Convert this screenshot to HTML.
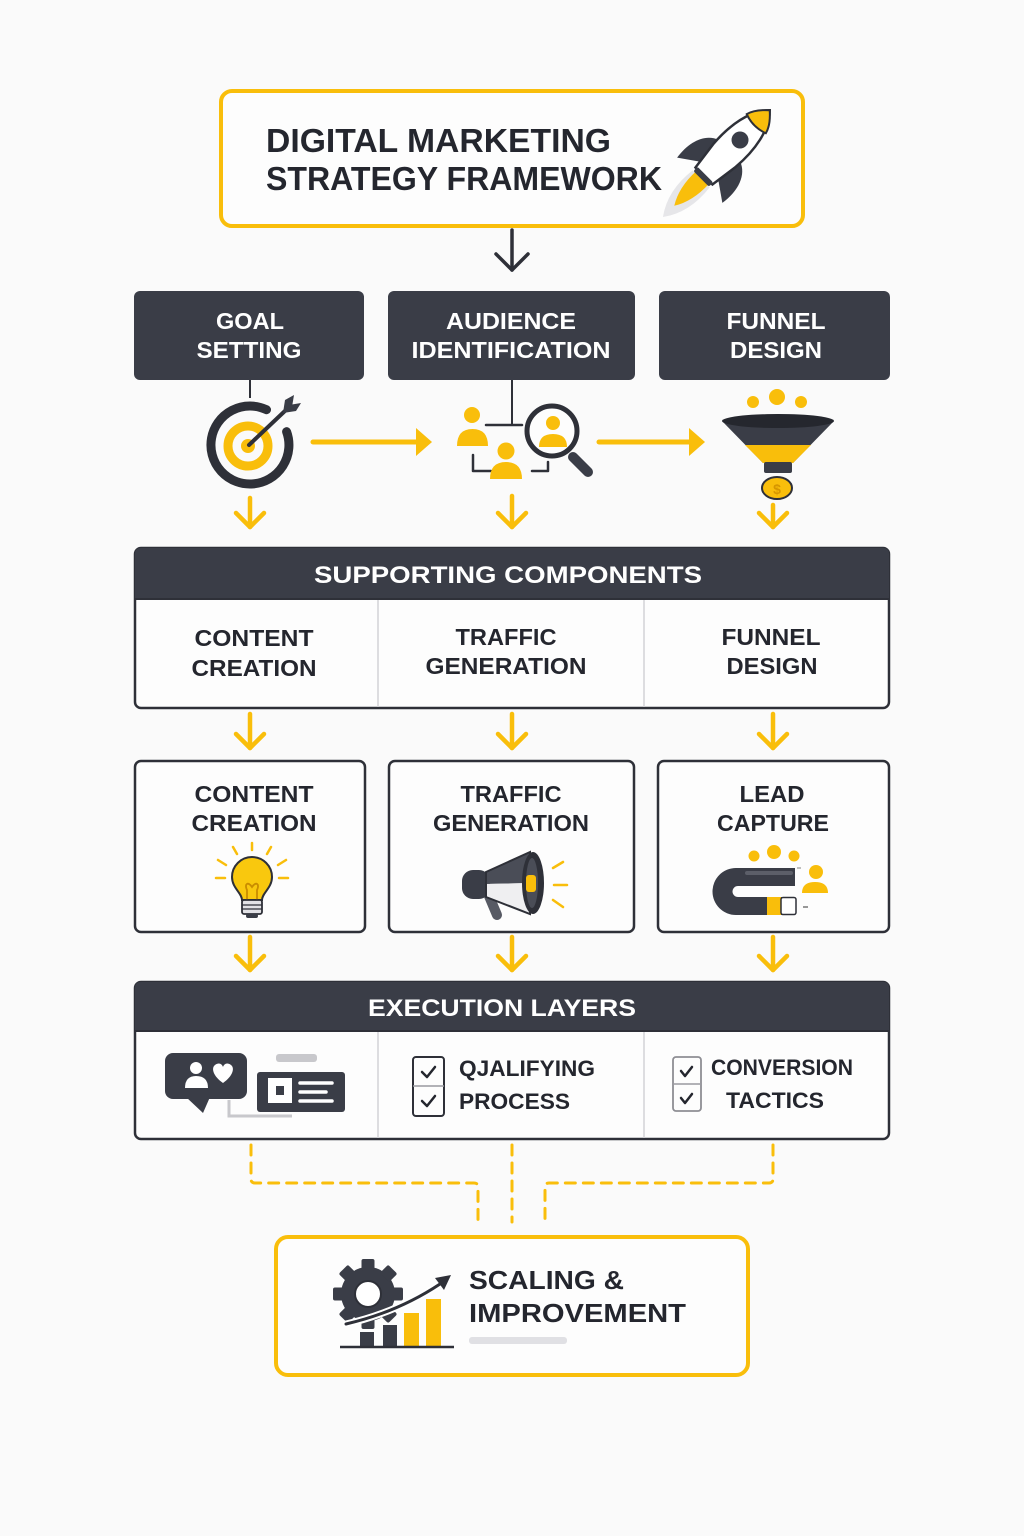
<!DOCTYPE html>
<html>
<head>
<meta charset="utf-8">
<style>
  html,body{margin:0;padding:0;background:#fafafa;}
  svg{display:block;}
  text{font-family:"Liberation Sans", Arial, sans-serif;font-weight:bold;}
</style>
</head>
<body>
<svg width="1024" height="1536" viewBox="0 0 1024 1536" xmlns="http://www.w3.org/2000/svg">
  <rect x="0" y="0" width="1024" height="1536" fill="#fafafa"/>

  <!-- ===== Title box ===== -->
  <rect x="221" y="91" width="582" height="135" rx="11" fill="#fdfdfd" stroke="#F9BE0B" stroke-width="4"/>
  <text x="266" y="152" font-size="33" fill="#24262e" textLength="345" lengthAdjust="spacingAndGlyphs">DIGITAL MARKETING</text>
  <text x="266" y="190" font-size="33" fill="#24262e" textLength="396" lengthAdjust="spacingAndGlyphs">STRATEGY FRAMEWORK</text>

  <!-- Rocket -->
  <g transform="translate(728,152) rotate(45)">
    <path d="M-12,38 Q-16,70 0,92 Q16,70 12,38 Z" fill="#e6e6e9"/>
    <path d="M-9,36 Q-10,60 0,76 Q10,60 9,36 Z" fill="#F9BE0B"/>
    <path d="M-15,-2 C-29,3 -35,20 -32,40 L-12,26 Z" fill="#3a3d47"/>
    <path d="M15,-2 C29,3 35,20 32,40 L12,26 Z" fill="#3a3d47"/>
    <path d="M0,-59 C14,-45 18,-20 16,5 L12,34 L-12,34 L-16,5 C-18,-20 -14,-45 0,-59 Z" fill="#ffffff" stroke="#2e3038" stroke-width="2.5"/>
    <path d="M0,-59 C8,-52 12,-46 13.5,-40 Q0,-35 -13.5,-40 C-12,-46 -8,-52 0,-59 Z" fill="#F9BE0B" stroke="#2e3038" stroke-width="2"/>
    <circle cx="0" cy="-17" r="8.5" fill="#3a3d47"/>
    <rect x="-11" y="32" width="22" height="6" rx="2" fill="#3a3d47"/>
  </g>

  <!-- dark arrow down from title -->
  <line x1="512" y1="230" x2="512" y2="270" stroke="#2e3038" stroke-width="3.5" stroke-linecap="round"/>
  <polyline points="496,254 512,270 528,254" fill="none" stroke="#2e3038" stroke-width="3.5" stroke-linecap="round" stroke-linejoin="round"/>

  <!-- ===== Top dark boxes ===== -->
  <rect x="134" y="291" width="230" height="89" rx="6" fill="#3a3d47"/>
  <rect x="388" y="291" width="247" height="89" rx="6" fill="#3a3d47"/>
  <rect x="659" y="291" width="231" height="89" rx="6" fill="#3a3d47"/>
  <text x="250" y="329" font-size="23" fill="#ffffff" text-anchor="middle" textLength="68" lengthAdjust="spacingAndGlyphs">GOAL</text>
  <text x="249" y="358" font-size="23" fill="#ffffff" text-anchor="middle" textLength="105" lengthAdjust="spacingAndGlyphs">SETTING</text>
  <text x="511" y="329" font-size="23" fill="#ffffff" text-anchor="middle" textLength="130" lengthAdjust="spacingAndGlyphs">AUDIENCE</text>
  <text x="511" y="358" font-size="23" fill="#ffffff" text-anchor="middle" textLength="199" lengthAdjust="spacingAndGlyphs">IDENTIFICATION</text>
  <text x="776" y="329" font-size="23" fill="#ffffff" text-anchor="middle" textLength="99" lengthAdjust="spacingAndGlyphs">FUNNEL</text>
  <text x="776" y="358" font-size="23" fill="#ffffff" text-anchor="middle" textLength="92" lengthAdjust="spacingAndGlyphs">DESIGN</text>

  <!-- connectors from boxes -->
  <line x1="250" y1="380" x2="250" y2="398" stroke="#2e3038" stroke-width="2"/>
  <line x1="512" y1="380" x2="512" y2="425" stroke="#2e3038" stroke-width="2"/>

  <!-- Target icon -->
  <path d="M286.6,431.7 A39,39 0 1 1 266.5,409.7" fill="none" stroke="#2e3038" stroke-width="9" stroke-linecap="round"/>
  <circle cx="248" cy="446" r="20" fill="none" stroke="#F9BE0B" stroke-width="9"/>
  <circle cx="248" cy="446" r="7" fill="#F9BE0B"/>
  <line x1="249" y1="445" x2="287" y2="409" stroke="#2e3038" stroke-width="4" stroke-linecap="round"/>
  <path d="M283,413 L285,400 L294,395 L292,407 Z" fill="#3a3d47"/>
  <path d="M283,413 L296,411 L301,403 L289,405 Z" fill="#3a3d47"/>

  <!-- arrow 1 -->
  <line x1="313" y1="442" x2="418" y2="442" stroke="#F9BE0B" stroke-width="5" stroke-linecap="round"/>
  <polygon points="416,428 432,442 416,456" fill="#F9BE0B"/>

  <!-- Audience icon -->
  <line x1="486" y1="425" x2="522" y2="425" stroke="#2e3038" stroke-width="2.5" stroke-linecap="round"/>
  <polyline points="473,455 473,471 491,471" fill="none" stroke="#2e3038" stroke-width="2.5" stroke-linecap="round" stroke-linejoin="round"/>
  <polyline points="532,471 548,471 548,462" fill="none" stroke="#2e3038" stroke-width="2.5" stroke-linecap="round" stroke-linejoin="round"/>
  <circle cx="472" cy="415" r="8" fill="#F9BE0B"/>
  <path d="M457,446 Q457,429 472.5,429 Q488,429 488,446 Z" fill="#F9BE0B"/>
  <circle cx="506" cy="451" r="8.5" fill="#F9BE0B"/>
  <path d="M490,479 Q490,462 506,462 Q522,462 522,479 Z" fill="#F9BE0B"/>
  <line x1="573" y1="457" x2="588" y2="472" stroke="#3a3d47" stroke-width="10" stroke-linecap="round"/>
  <circle cx="552" cy="431" r="25" fill="#fdfdfd" stroke="#2e3038" stroke-width="5"/>
  <circle cx="553" cy="423" r="7" fill="#F9BE0B"/>
  <path d="M539,447 Q539,434 553,434 Q567,434 567,447 Z" fill="#F9BE0B"/>

  <!-- arrow 2 -->
  <line x1="599" y1="442" x2="691" y2="442" stroke="#F9BE0B" stroke-width="5" stroke-linecap="round"/>
  <polygon points="689,428 705,442 689,456" fill="#F9BE0B"/>

  <!-- Funnel icon -->
  <circle cx="753" cy="402" r="6" fill="#F9BE0B"/>
  <circle cx="777" cy="397" r="8" fill="#F9BE0B"/>
  <circle cx="801" cy="402" r="6" fill="#F9BE0B"/>
  <path d="M722,421 L763,463 L793,463 L834,421 Z" fill="#3a3d47"/>
  <polygon points="745,445 811,445 793,463 763,463" fill="#F9BE0B"/>
  <ellipse cx="778" cy="421" rx="56" ry="7" fill="#25272e"/>
  <rect x="764" y="462" width="28" height="11" rx="2" fill="#3a3d47"/>
  <ellipse cx="777" cy="488" rx="15" ry="11" fill="#F9BE0B" stroke="#2e3038" stroke-width="2"/>
  <text x="777" y="494" font-size="14" fill="#d69600" text-anchor="middle">$</text>

  <!-- row 1 down arrows -->
  <g stroke="#F9BE0B" stroke-width="4.5" stroke-linecap="round" stroke-linejoin="round" fill="none">
    <line x1="250" y1="498" x2="250" y2="527"/><polyline points="236,513 250,527 264,513"/>
    <line x1="512" y1="496" x2="512" y2="527"/><polyline points="498,513 512,527 526,513"/>
    <line x1="773" y1="505" x2="773" y2="527"/><polyline points="759,513 773,527 787,513"/>
  </g>

  <!-- ===== Supporting components ===== -->
  <rect x="135" y="548" width="754" height="160" rx="6" fill="#fdfdfd" stroke="#2e3038" stroke-width="2.5"/>
  <path d="M135,599 L135,554 Q135,548 141,548 L883,548 Q889,548 889,554 L889,599 Z" fill="#3a3d47"/>
  <line x1="135" y1="599" x2="889" y2="599" stroke="#2e3038" stroke-width="2"/>
  <line x1="378" y1="600" x2="378" y2="707" stroke="#d2d2d6" stroke-width="1.5"/>
  <line x1="644" y1="600" x2="644" y2="707" stroke="#d2d2d6" stroke-width="1.5"/>
  <text x="508" y="583" font-size="24" fill="#ffffff" text-anchor="middle" textLength="388" lengthAdjust="spacingAndGlyphs">SUPPORTING COMPONENTS</text>
  <text x="254" y="646" font-size="23" fill="#24262e" text-anchor="middle" textLength="119" lengthAdjust="spacingAndGlyphs">CONTENT</text>
  <text x="254" y="676" font-size="23" fill="#24262e" text-anchor="middle" textLength="125" lengthAdjust="spacingAndGlyphs">CREATION</text>
  <text x="506" y="645" font-size="23" fill="#24262e" text-anchor="middle" textLength="101" lengthAdjust="spacingAndGlyphs">TRAFFIC</text>
  <text x="506" y="674" font-size="23" fill="#24262e" text-anchor="middle" textLength="161" lengthAdjust="spacingAndGlyphs">GENERATION</text>
  <text x="771" y="645" font-size="23" fill="#24262e" text-anchor="middle" textLength="99" lengthAdjust="spacingAndGlyphs">FUNNEL</text>
  <text x="772" y="674" font-size="23" fill="#24262e" text-anchor="middle" textLength="91" lengthAdjust="spacingAndGlyphs">DESIGN</text>

  <!-- row 2 down arrows -->
  <g stroke="#F9BE0B" stroke-width="4.5" stroke-linecap="round" stroke-linejoin="round" fill="none">
    <line x1="250" y1="714" x2="250" y2="748"/><polyline points="236,734 250,748 264,734"/>
    <line x1="512" y1="714" x2="512" y2="748"/><polyline points="498,734 512,748 526,734"/>
    <line x1="773" y1="714" x2="773" y2="748"/><polyline points="759,734 773,748 787,734"/>
  </g>

  <!-- ===== Middle boxes ===== -->
  <rect x="135" y="761" width="230" height="171" rx="6" fill="#fdfdfd" stroke="#2e3038" stroke-width="2.5"/>
  <rect x="389" y="761" width="245" height="171" rx="6" fill="#fdfdfd" stroke="#2e3038" stroke-width="2.5"/>
  <rect x="658" y="761" width="231" height="171" rx="6" fill="#fdfdfd" stroke="#2e3038" stroke-width="2.5"/>
  <text x="254" y="802" font-size="23" fill="#24262e" text-anchor="middle" textLength="119" lengthAdjust="spacingAndGlyphs">CONTENT</text>
  <text x="254" y="831" font-size="23" fill="#24262e" text-anchor="middle" textLength="125" lengthAdjust="spacingAndGlyphs">CREATION</text>
  <text x="511" y="802" font-size="23" fill="#24262e" text-anchor="middle" textLength="101" lengthAdjust="spacingAndGlyphs">TRAFFIC</text>
  <text x="511" y="831" font-size="23" fill="#24262e" text-anchor="middle" textLength="156" lengthAdjust="spacingAndGlyphs">GENERATION</text>
  <text x="772" y="802" font-size="23" fill="#24262e" text-anchor="middle" textLength="65" lengthAdjust="spacingAndGlyphs">LEAD</text>
  <text x="773" y="831" font-size="23" fill="#24262e" text-anchor="middle" textLength="112" lengthAdjust="spacingAndGlyphs">CAPTURE</text>

  <!-- Bulb -->
  <g stroke="#F9BE0B" stroke-width="2.5" stroke-linecap="round">
    <line x1="252" y1="843" x2="252" y2="850"/>
    <line x1="233" y1="847" x2="237" y2="854"/>
    <line x1="271" y1="847" x2="267" y2="854"/>
    <line x1="218" y1="860" x2="226" y2="865"/>
    <line x1="286" y1="860" x2="278" y2="865"/>
    <line x1="216" y1="878" x2="225" y2="878"/>
    <line x1="279" y1="878" x2="288" y2="878"/>
  </g>
  <path d="M242,900 C242,893 232,888 232,877 A20,20 0 1 1 272,877 C272,888 262,893 262,900 Z" fill="#F9C80E" stroke="#2e3038" stroke-width="2"/>
  <path d="M247,900 L247,890 C244,884 248,881 252,887 C256,881 260,884 257,890 L257,900" fill="none" stroke="#c98c00" stroke-width="1.8"/>
  <rect x="242" y="900" width="20" height="14" rx="2" fill="#e2e2e6" stroke="#2e3038" stroke-width="1.8"/>
  <line x1="242" y1="905" x2="262" y2="905" stroke="#2e3038" stroke-width="1.2"/>
  <line x1="242" y1="909" x2="262" y2="909" stroke="#2e3038" stroke-width="1.2"/>
  <rect x="246" y="914" width="12" height="4" rx="2" fill="#3a3d47"/>

  <!-- Megaphone -->
  <line x1="489" y1="896" x2="497" y2="915" stroke="#575a64" stroke-width="10" stroke-linecap="round"/>
  <rect x="462" y="870" width="28" height="29" rx="11" fill="#3a3d47"/>
  <polygon points="486,872 530,852 530,883 486,884" fill="#4a4d57"/>
  <polygon points="486,884 530,883 530,914 486,897" fill="#efeff1"/>
  <polygon points="486,872 530,852 530,914 486,897" fill="none" stroke="#2e3038" stroke-width="2"/>
  <ellipse cx="533" cy="883" rx="11" ry="31" fill="#2e3038"/>
  <ellipse cx="532" cy="883" rx="6" ry="25" fill="#4a4d57"/>
  <rect x="526" y="875" width="10" height="17" rx="3" fill="#F9BE0B"/>
  <g stroke="#F9BE0B" stroke-width="2.5" stroke-linecap="round">
    <line x1="553" y1="868" x2="563" y2="862"/>
    <line x1="554" y1="885" x2="567" y2="885"/>
    <line x1="553" y1="900" x2="563" y2="907"/>
  </g>

  <!-- Magnet -->
  <circle cx="754" cy="856" r="5.5" fill="#F9BE0B"/>
  <circle cx="774" cy="852" r="7" fill="#F9BE0B"/>
  <circle cx="794" cy="856" r="5.5" fill="#F9BE0B"/>
  <path d="M795,868 L736,868 A23.5,23.5 0 0 0 736,915 L795,915 L795,897 L738,897 A5.5,5.5 0 0 1 738,886 L795,886 Z" fill="#3a3d47"/>
  <rect x="745" y="871" width="48" height="4" rx="2" fill="#5c5f69"/>
  <rect x="767" y="897" width="14" height="18" fill="#F9BE0B"/>
  <rect x="781" y="897.5" width="15" height="17" rx="2" fill="#ffffff" stroke="#2e3038" stroke-width="1.5"/>
  <circle cx="816" cy="872" r="7" fill="#F9BE0B"/>
  <path d="M802,893 Q802,882 815,882 Q828,882 828,893 Z" fill="#F9BE0B"/>
  <line x1="797" y1="868" x2="801" y2="868" stroke="#aaa" stroke-width="1.5"/>
  <line x1="803" y1="907" x2="808" y2="907" stroke="#777" stroke-width="1.5"/>

  <!-- row 3 down arrows -->
  <g stroke="#F9BE0B" stroke-width="4.5" stroke-linecap="round" stroke-linejoin="round" fill="none">
    <line x1="250" y1="937" x2="250" y2="970"/><polyline points="236,956 250,970 264,956"/>
    <line x1="512" y1="937" x2="512" y2="970"/><polyline points="498,956 512,970 526,956"/>
    <line x1="773" y1="937" x2="773" y2="970"/><polyline points="759,956 773,970 787,956"/>
  </g>

  <!-- ===== Execution layers ===== -->
  <rect x="135" y="982" width="754" height="157" rx="6" fill="#fdfdfd" stroke="#2e3038" stroke-width="2.5"/>
  <path d="M135,1031 L135,988 Q135,982 141,982 L883,982 Q889,982 889,988 L889,1031 Z" fill="#3a3d47"/>
  <line x1="135" y1="1031" x2="889" y2="1031" stroke="#2e3038" stroke-width="2"/>
  <line x1="378" y1="1032" x2="378" y2="1138" stroke="#d2d2d6" stroke-width="1.5"/>
  <line x1="644" y1="1032" x2="644" y2="1138" stroke="#d2d2d6" stroke-width="1.5"/>
  <text x="502" y="1016" font-size="24" fill="#ffffff" text-anchor="middle" textLength="268" lengthAdjust="spacingAndGlyphs">EXECUTION LAYERS</text>

  <!-- chat + card icon -->
  <polyline points="229,1100 229,1116 292,1116" fill="none" stroke="#c8c8cc" stroke-width="3"/>
  <rect x="165" y="1053" width="82" height="46" rx="8" fill="#3a3d47"/>
  <polygon points="186,1097 203,1113 210,1097" fill="#3a3d47"/>
  <circle cx="196" cy="1068" r="6" fill="#ffffff"/>
  <path d="M185,1088 Q185,1076 196,1076 Q208,1076 208,1088 Z" fill="#ffffff"/>
  <path d="M223,1083 C213,1076 211,1068 215,1065 C219,1062 222,1064 223,1067 C224,1064 227,1062 231,1065 C235,1068 233,1076 223,1083 Z" fill="#ffffff"/>
  <rect x="276" y="1054" width="41" height="8" rx="3" fill="#c8c8cc"/>
  <rect x="257" y="1072" width="88" height="40" rx="3" fill="#3a3d47"/>
  <rect x="268" y="1078" width="24" height="25" fill="#ffffff"/>
  <rect x="276" y="1086" width="8" height="9" fill="#3a3d47"/>
  <g stroke="#ffffff" stroke-width="3.5" stroke-linecap="round">
    <line x1="300" y1="1083" x2="332" y2="1083"/>
    <line x1="300" y1="1092" x2="326" y2="1092"/>
    <line x1="300" y1="1101" x2="332" y2="1101"/>
  </g>

  <!-- checkbox 1 -->
  <rect x="413" y="1057" width="31" height="59" rx="3" fill="#fdfdfd" stroke="#2e3038" stroke-width="2"/>
  <line x1="413" y1="1086" x2="444" y2="1086" stroke="#9a9aa0" stroke-width="1.5"/>
  <polyline points="422,1072 427,1077 435,1067" fill="none" stroke="#24262e" stroke-width="2.5" stroke-linecap="round" stroke-linejoin="round"/>
  <polyline points="422,1101 427,1106 435,1096" fill="none" stroke="#24262e" stroke-width="2.5" stroke-linecap="round" stroke-linejoin="round"/>
  <text x="459" y="1076" font-size="22" fill="#24262e" textLength="136" lengthAdjust="spacingAndGlyphs">QJALIFYING</text>
  <text x="459" y="1109" font-size="22" fill="#24262e" textLength="111" lengthAdjust="spacingAndGlyphs">PROCESS</text>

  <!-- checkbox 2 -->
  <rect x="673" y="1057" width="28" height="54" rx="3" fill="#fdfdfd" stroke="#8e8e94" stroke-width="1.8"/>
  <line x1="673" y1="1084" x2="701" y2="1084" stroke="#9a9aa0" stroke-width="1.5"/>
  <polyline points="681,1071 685,1076 692,1067" fill="none" stroke="#24262e" stroke-width="2.5" stroke-linecap="round" stroke-linejoin="round"/>
  <polyline points="681,1098 685,1103 692,1094" fill="none" stroke="#24262e" stroke-width="2.5" stroke-linecap="round" stroke-linejoin="round"/>
  <text x="711" y="1075" font-size="22" fill="#24262e" textLength="142" lengthAdjust="spacingAndGlyphs">CONVERSION</text>
  <text x="726" y="1108" font-size="22" fill="#24262e" textLength="98" lengthAdjust="spacingAndGlyphs">TACTICS</text>

  <!-- ===== dashed connectors ===== -->
  <g fill="none" stroke="#F9BE0B" stroke-width="3" stroke-dasharray="10 8" stroke-linecap="round">
    <path d="M251,1145 L251,1179 Q251,1183 255,1183 L474,1183 Q478,1183 478,1187 L478,1222"/>
    <path d="M512,1145 L512,1222"/>
    <path d="M773,1145 L773,1179 Q773,1183 769,1183 L549,1183 Q545,1183 545,1187 L545,1222"/>
  </g>

  <!-- ===== Scaling box ===== -->
  <rect x="276" y="1237" width="472" height="138" rx="12" fill="#fdfdfd" stroke="#F9BE0B" stroke-width="4"/>
  <!-- gear -->
  <g transform="translate(368,1294)" fill="#3a3d47">
    <circle cx="0" cy="0" r="27"/>
    <rect x="-6.5" y="-35" width="13" height="12" rx="2"/>
    <rect x="-6.5" y="-35" width="13" height="12" rx="2" transform="rotate(45)"/>
    <rect x="-6.5" y="-35" width="13" height="12" rx="2" transform="rotate(90)"/>
    <rect x="-6.5" y="-35" width="13" height="12" rx="2" transform="rotate(135)"/>
    <rect x="-6.5" y="-35" width="13" height="12" rx="2" transform="rotate(180)"/>
    <rect x="-6.5" y="-35" width="13" height="12" rx="2" transform="rotate(225)"/>
    <rect x="-6.5" y="-35" width="13" height="12" rx="2" transform="rotate(270)"/>
    <rect x="-6.5" y="-35" width="13" height="12" rx="2" transform="rotate(315)"/>
    <circle cx="0" cy="0" r="13" fill="#ffffff" stroke="#2e3038" stroke-width="2"/>
  </g>
  <!-- bars -->
  <rect x="360" y="1332" width="14" height="15" fill="#3a3d47"/>
  <rect x="383" y="1325" width="14" height="22" fill="#3a3d47"/>
  <rect x="404" y="1313" width="15" height="34" fill="#F9BE0B"/>
  <rect x="426" y="1299" width="15" height="48" fill="#F9BE0B"/>
  <line x1="340" y1="1347" x2="454" y2="1347" stroke="#2e3038" stroke-width="2.5"/>
  <!-- curved arrow -->
  <path d="M346,1324 Q398,1312 440,1284" fill="none" stroke="#ffffff" stroke-width="7" stroke-linecap="round"/>
  <path d="M346,1324 Q398,1312 440,1284" fill="none" stroke="#2e3038" stroke-width="3" stroke-linecap="round"/>
  <polygon points="451,1275 444,1290 435,1278" fill="#2e3038"/>
  <text x="469" y="1289" font-size="26" fill="#24262e" textLength="155" lengthAdjust="spacingAndGlyphs">SCALING &amp;</text>
  <text x="469" y="1322" font-size="26" fill="#24262e" textLength="217" lengthAdjust="spacingAndGlyphs">IMPROVEMENT</text>
  <rect x="469" y="1337" width="98" height="7" rx="3" fill="#e0e0e4"/>
</svg>
</body>
</html>
